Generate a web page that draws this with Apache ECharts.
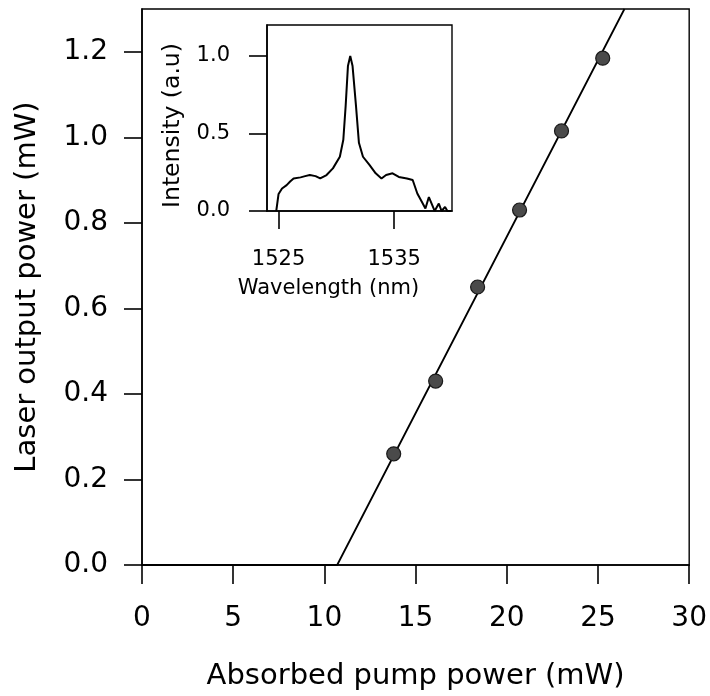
<!DOCTYPE html>
<html>
<head>
<meta charset="utf-8">
<script src="https://cdn.jsdelivr.net/npm/echarts@6/dist/echarts.min.js"></script>
<style>html,body{margin:0;padding:0;background:#fff}#c{width:710px;height:696px}</style>
</head>
<body>
<div id="c"></div>
<script>
// Main plot: measured laser output vs absorbed pump power
const pumpPower = [13.8, 16.1, 18.4, 20.7, 23.0, 25.26];
const outputPower = [0.26, 0.43, 0.65, 0.83, 1.015, 1.185];
// Linear fit line (threshold then slope)
const fitX = [0, 10.7, 26.45];
const fitY = [0, 0, 1.3];
const mainYTicks = [0, 0.2, 0.4, 0.6, 0.8, 1.0, 1.2];
// Inset: laser spectrum
const specWavelength = [1524.8, 1525.0, 1525.3, 1525.7, 1526.0, 1526.3, 1526.9, 1527.3, 1527.7, 1528.2, 1528.6, 1529.15, 1529.7, 1530.3, 1530.6, 1530.8, 1531.0, 1531.2, 1531.4, 1531.7, 1531.95, 1532.3, 1532.86, 1533.4, 1533.9, 1534.3, 1534.86, 1535.4, 1536.1, 1536.6, 1537.0, 1537.4, 1537.7, 1538.0, 1538.3, 1538.5, 1538.86, 1539.1, 1539.4, 1539.6, 1539.9];
const specIntensity = [0.0, 0.11, 0.145, 0.167, 0.19, 0.21, 0.217, 0.225, 0.232, 0.225, 0.21, 0.232, 0.275, 0.35, 0.46, 0.675, 0.935, 1.0, 0.935, 0.675, 0.44, 0.35, 0.297, 0.243, 0.21, 0.232, 0.243, 0.22, 0.21, 0.2, 0.113, 0.058, 0.016, 0.09, 0.037, 0.0, 0.048, 0.0, 0.026, 0.0, 0.0];
const insetXTicks = [1525, 1535];
const insetYTicks = [0, 0.5, 1.0];

const FONT = 'DejaVu Sans';
const chart = echarts.init(document.getElementById('c'), null, {renderer: 'canvas'});
const axisLineStyle = {color: '#000', width: 1.6};
chart.setOption({
  backgroundColor: '#fff',
  animation: false,
  grid: [
    {left: 142, right: 18, top: 9, bottom: 131, show: true, borderColor: '#000', borderWidth: 1.4, backgroundColor: 'transparent'},
    {left: 267, top: 25, width: 185, height: 186, show: true, borderColor: '#000', borderWidth: 1.4, backgroundColor: '#fff'}
  ],
  xAxis: [
    {
      gridIndex: 0, type: 'value', min: 0, max: 30, interval: 5,
      name: 'Absorbed pump power (mW)', nameLocation: 'middle', nameGap: 97,
      nameTextStyle: {fontFamily: FONT, fontSize: 29, color: '#000'},
      axisLine: {lineStyle: axisLineStyle},
      axisTick: {length: 19, lineStyle: {color: '#000', width: 1.6}},
      axisLabel: {fontFamily: FONT, fontSize: 28, color: '#000', margin: 40},
      splitLine: {show: false}
    },
    {
      gridIndex: 1, type: 'value', min: 1524, max: 1540,
      name: 'Wavelength (nm)', nameLocation: 'middle', nameGap: 67,
      nameTextStyle: {fontFamily: FONT, fontSize: 21, color: '#000', padding: [0, 62, 0, 0]},
      axisLine: {lineStyle: axisLineStyle},
      axisTick: {length: 18, customValues: insetXTicks, lineStyle: {color: '#000', width: 1.6}},
      axisLabel: {fontFamily: FONT, fontSize: 21, color: '#000', margin: 38, customValues: insetXTicks,
        formatter: v => String(v)},
      splitLine: {show: false}
    }
  ],
  yAxis: [
    {
      gridIndex: 0, type: 'value', min: 0, max: 1.3,
      name: 'Laser output power (mW)', nameLocation: 'middle', nameGap: 100,
      nameTextStyle: {fontFamily: FONT, fontSize: 29, color: '#000'},
      axisLine: {lineStyle: axisLineStyle},
      axisTick: {length: 18, customValues: mainYTicks, lineStyle: {color: '#000', width: 1.6}},
      axisLabel: {fontFamily: FONT, fontSize: 28, color: '#000', margin: 34, customValues: mainYTicks,
        formatter: v => v.toFixed(1)},
      splitLine: {show: false}
    },
    {
      gridIndex: 1, type: 'value', min: 0, max: 1.2,
      name: 'Intensity (a.u)', nameLocation: 'middle', nameGap: 82,
      nameTextStyle: {fontFamily: FONT, fontSize: 23.5, color: '#000', padding: [0, 15, 0, 0]},
      axisLine: {lineStyle: axisLineStyle},
      axisTick: {length: 18, customValues: insetYTicks, lineStyle: {color: '#000', width: 1.6}},
      axisLabel: {fontFamily: FONT, fontSize: 21, color: '#000', margin: 37, customValues: insetYTicks,
        formatter: v => v.toFixed(1)},
      splitLine: {show: false}
    }
  ],
  series: [
    {
      type: 'line', xAxisIndex: 0, yAxisIndex: 0,
      data: fitX.map((x, i) => [x, fitY[i]]),
      showSymbol: false, symbol: 'none', clip: true,
      lineStyle: {color: '#000', width: 1.8}, z: 3
    },
    {
      type: 'scatter', xAxisIndex: 0, yAxisIndex: 0,
      data: pumpPower.map((x, i) => [x, outputPower[i]]),
      symbol: 'circle', symbolSize: 14,
      itemStyle: {color: '#4a4a4a', borderColor: '#1a1a1a', borderWidth: 1.2, opacity: 1}, z: 4
    },
    {
      type: 'line', xAxisIndex: 1, yAxisIndex: 1,
      data: specWavelength.map((x, i) => [x, specIntensity[i]]),
      showSymbol: false, symbol: 'none',
      lineStyle: {color: '#000', width: 2}, z: 5
    }
  ]
});
</script>
</body>
</html>
